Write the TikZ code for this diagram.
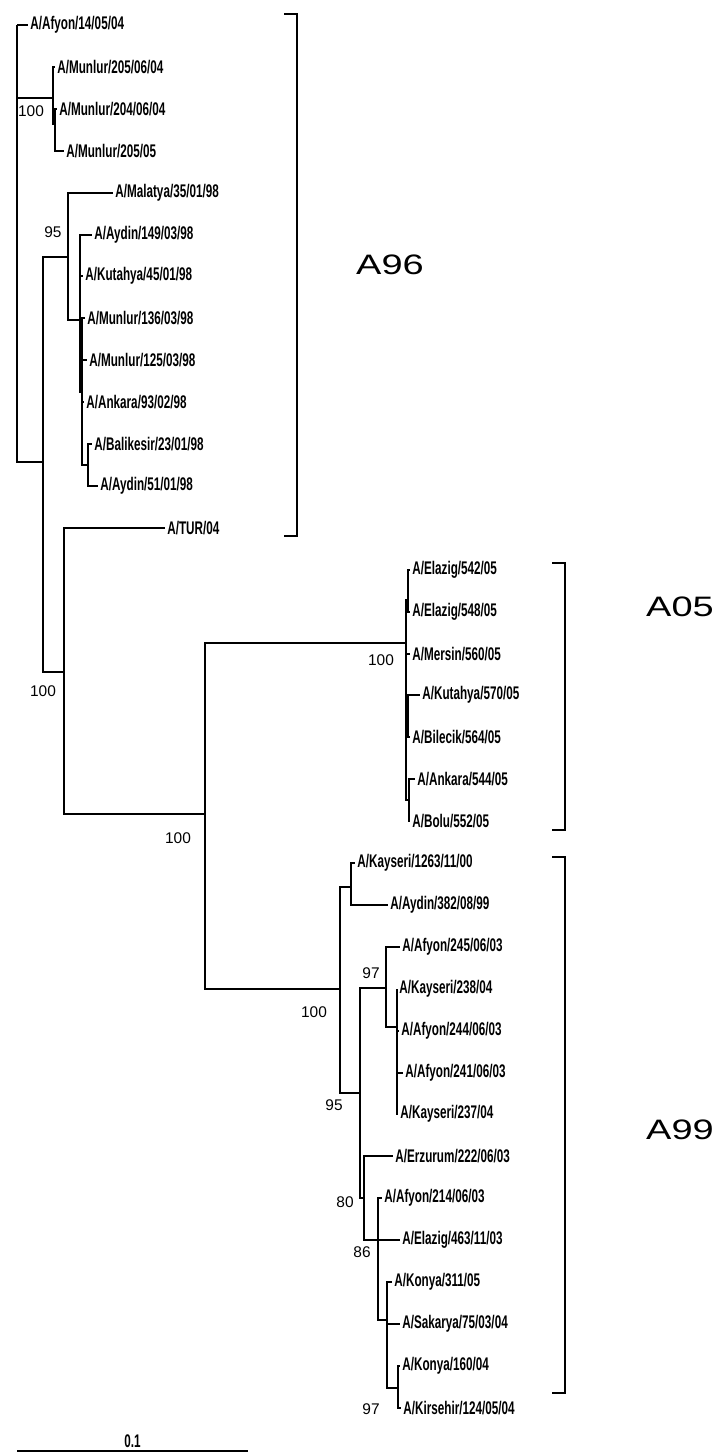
\documentclass[tikz,border=0pt]{standalone}
\usepackage{fontspec}
\setmainfont{Liberation Sans}
\newfontfamily\leaffont[FakeStretch=0.64]{Liberation Sans Bold}
\newfontfamily\cladefont[FakeStretch=1.35]{Liberation Sans}
\usetikzlibrary{positioning, calc}

\begin{document}
\begin{tikzpicture}[
    x=0.025cm, y=-0.025cm,
    branch/.style={line width=1.1pt},
    bracket/.style={line width=1.1pt},
    leaf/.style={anchor=west, inner xsep=1.5pt, inner ysep=0pt, font=\leaffont\fontsize{13}{13}\selectfont},
    boot/.style={inner sep=0pt, font=\fontsize{11}{11}\selectfont},
    clade/.style={inner sep=0pt, font=\cladefont\fontsize{20}{20}\selectfont}
]
    \useasboundingbox (0,0) rectangle (719,1454);

    % A96 taxa
    \node[leaf] (afy14)   at (28,25)   {A/Afyon/14/05/04};
    \node[leaf] (mun205a) at (55,67)   {A/Munlur/205/06/04};
    \node[leaf] (mun204)  at (57,109)  {A/Munlur/204/06/04};
    \node[leaf] (mun205b) at (64,151)  {A/Munlur/205/05};
    \node[leaf] (mal35)   at (113,193) {A/Malatya/35/01/98};
    \node[leaf] (ayd149)  at (92,235)  {A/Aydin/149/03/98};
    \node[leaf] (kut45)   at (83,276)  {A/Kutahya/45/01/98};
    \node[leaf] (mun136)  at (85,318)  {A/Munlur/136/03/98};
    \node[leaf] (mun125)  at (87,360)  {A/Munlur/125/03/98};
    \node[leaf] (ank93)   at (84,402)  {A/Ankara/93/02/98};
    \node[leaf] (bal23)   at (92,444)  {A/Balikesir/23/01/98};
    \node[leaf] (ayd51)   at (98,486)  {A/Aydin/51/01/98};
    \node[leaf] (tur04)   at (165,528) {A/TUR/04};

    % A05 taxa
    \node[leaf] (ela542)  at (410,570) {A/Elazig/542/05};
    \node[leaf] (ela548)  at (410,612) {A/Elazig/548/05};
    \node[leaf] (mer560)  at (410,654) {A/Mersin/560/05};
    \node[leaf] (kut570)  at (420,695) {A/Kutahya/570/05};
    \node[leaf] (bil564)  at (410,737) {A/Bilecik/564/05};
    \node[leaf] (ank544)  at (415,779) {A/Ankara/544/05};
    \node[leaf] (bol552)  at (410,821) {A/Bolu/552/05};

    % A99 taxa
    \node[leaf] (kay1263) at (355,863)  {A/Kayseri/1263/11/00};
    \node[leaf] (ayd382)  at (388,905)  {A/Aydin/382/08/99};
    \node[leaf] (afy245)  at (400,947)  {A/Afyon/245/06/03};
    \node[leaf] (kay238)  at (397,989)  {A/Kayseri/238/04};
    \node[leaf] (afy244)  at (399,1031) {A/Afyon/244/06/03};
    \node[leaf] (afy241)  at (403,1073) {A/Afyon/241/06/03};
    \node[leaf] (kay237)  at (398,1114) {A/Kayseri/237/04};
    \node[leaf] (erz222)  at (393,1156) {A/Erzurum/222/06/03};
    \node[leaf] (afy214)  at (382,1198) {A/Afyon/214/06/03};
    \node[leaf] (ela463)  at (400,1240) {A/Elazig/463/11/03};
    \node[leaf] (kon31)   at (392,1282) {A/Konya/311/05};
    \node[leaf] (sak75)   at (400,1324) {A/Sakarya/75/03/04};
    \node[leaf] (kon160)  at (400,1366) {A/Konya/160/04};
    \node[leaf] (kir124)  at (401,1408) {A/Kirsehir/124/05/04};

    % internal nodes
    \coordinate (root) at (17,25);
    \coordinate (mun)  at (53,98);
    \coordinate (m23)  at (55,124);
    \coordinate (n43)  at (43,462);
    \coordinate (c95)  at (68,257);
    \coordinate (p80)  at (80,320);
    \coordinate (q82)  at (82,392);
    \coordinate (r88)  at (88,465);
    \coordinate (n64)  at (64,672);
    \coordinate (n205) at (205,814);
    \coordinate (a05)  at (406,643);
    \coordinate (e12)  at (408,600);
    \coordinate (e45)  at (408,716);
    \coordinate (e67)  at (409,800);
    \coordinate (a99)  at (340,989);
    \coordinate (k351) at (351,887);
    \coordinate (n360) at (360,1093);
    \coordinate (n386) at (386,988);
    \coordinate (n397) at (397,1027);
    \coordinate (n364) at (364,1198);
    \coordinate (n378) at (378,1240);
    \coordinate (n387) at (387,1320);
    \coordinate (n398) at (398,1388);

    \foreach \p/\c in {root/mun, root/n43, mun/m23, n43/c95, n43/n64, c95/p80, p80/q82, q82/r88,
                       n64/n205, n205/a05, n205/a99, a05/e12, a05/e45, a05/e67,
                       a99/k351, a99/n360, n360/n386, n360/n364, n386/n397,
                       n364/n378, n378/n387, n387/n398}
        \draw[branch] (\p) |- (\c);

    \foreach \p/\c in {root/afy14, mun/mun205a, m23/mun204, m23/mun205b, c95/mal35,
                       p80/ayd149, p80/kut45, q82/mun136, q82/mun125, q82/ank93,
                       r88/bal23, r88/ayd51, n64/tur04,
                       e12/ela542, e12/ela548, a05/mer560, e45/kut570, e45/bil564,
                       e67/ank544, e67/bol552,
                       k351/kay1263, k351/ayd382, n386/afy245, n397/kay238, n397/afy244,
                       n397/afy241, n397/kay237, n364/erz222, n378/afy214, n378/ela463,
                       n387/kon31, n387/sak75, n398/kon160, n398/kir124}
        \draw[branch] (\p) |- (\c.west);

    % bootstrap values
    \node[boot] (bmun)  at (31,111)   {100};
    \node[boot] (bc95)  at (53,232)   {95};
    \node[boot] (bn64)  at (43,691)   {100};
    \node[boot] (bn205) at (178,838)  {100};
    \node[boot] (ba05)  at (381,660)  {100};
    \node[boot] (ba99)  at (314,1012) {100};
    \node[boot] (bn386) at (371,973)  {97};
    \node[boot] (bn360) at (334,1105) {95};
    \node[boot] (bn364) at (345,1202) {80};
    \node[boot] (bn378) at (362,1252) {86};
    \node[boot] (bn398) at (371,1409) {97};

    % clade brackets
    \draw[bracket] (284,14) -- (297,14) -- (297,536) -- (284,536);
    \draw[bracket] (552,563) -- (565,563) -- (565,830) -- (552,830);
    \draw[bracket] (552,857) -- (565,857) -- (565,1393) -- (552,1393);
    \node[clade] (la96) at (390,265)  {A96};
    \node[clade] (la05) at (680,607)  {A05};
    \node[clade] (la99) at (680,1130) {A99};

    % scale bar
    \coordinate (sbl) at (17,1451);
    \coordinate (sbr) at (248,1451);
    \draw[branch] (sbl) -- node[above=2pt, inner sep=0pt, font=\leaffont\fontsize{13}{13}\selectfont] (sblab) {0.1} (sbr);
\end{tikzpicture}
\end{document}
